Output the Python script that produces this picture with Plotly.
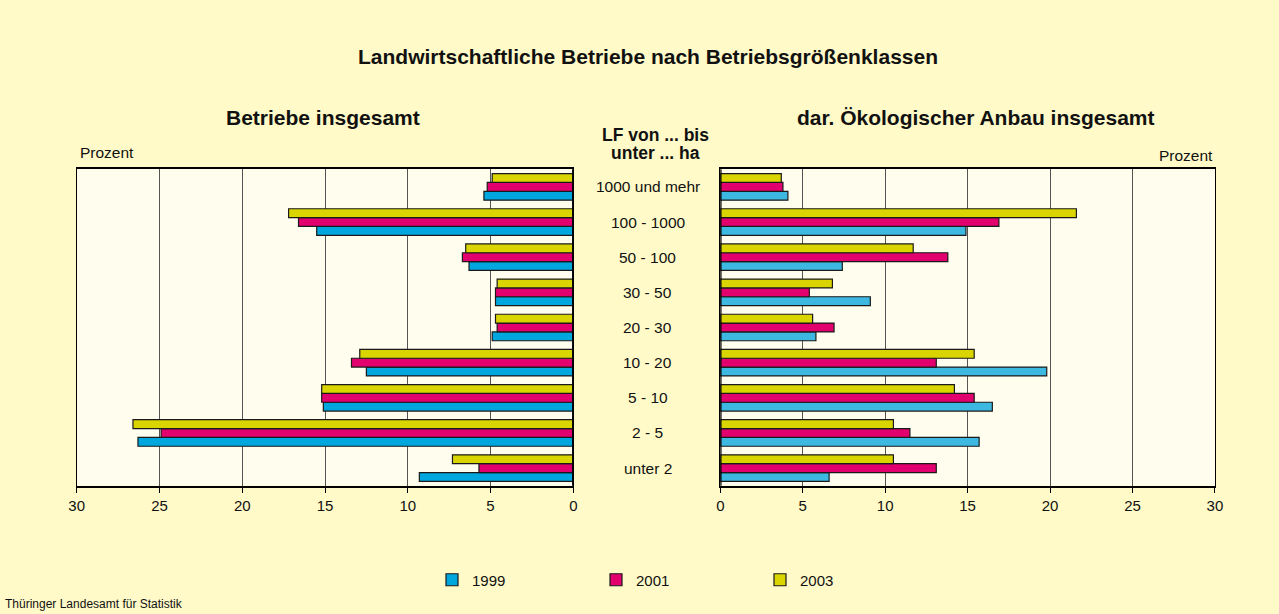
import plotly.graph_objects as go

W, H = 1279, 614

categories = ["1000 und mehr", "100 - 1000", "50 - 100", "30 - 50", "20 - 30",
              "10 - 20", "5 - 10", "2 - 5", "unter 2"]
years = ["1999", "2001", "2003"]

# Betriebe insgesamt (Prozent)
total_1999 = [5.4, 15.5, 6.3, 4.7, 4.9, 12.5, 15.1, 26.3, 9.3]
total_2001 = [5.2, 16.6, 6.7, 4.7, 4.6, 13.4, 15.2, 24.9, 5.7]
total_2003 = [4.9, 17.2, 6.5, 4.6, 4.7, 12.9, 15.2, 26.6, 7.3]

# darunter Ökologischer Anbau (Prozent)
eco_1999 = [4.1, 14.9, 7.4, 9.1, 5.8, 19.8, 16.5, 15.7, 6.6]
eco_2001 = [3.8, 16.9, 13.8, 5.4, 6.9, 13.1, 15.4, 11.5, 13.1]
eco_2003 = [3.7, 21.6, 11.7, 6.8, 5.6, 15.4, 14.2, 10.5, 10.5]

tick_vals = [0, 5, 10, 15, 20, 25, 30]
tick_text = ["0", "5", "10", "15", "20", "25", "30"]

colors_left = ["#00A6DE", "#E2006F", "#DAD500"]
colors_right = ["#3DB8E1", "#E2006F", "#DAD500"]

BG = "#FFFAC8"
PLOT_BG = "#FFFDEE"
FONT = "Liberation Sans, Arial, sans-serif"

fig = go.Figure()

left_series = [total_1999, total_2001, total_2003]
right_series = [eco_1999, eco_2001, eco_2003]

for i, yr in enumerate(years):
    fig.add_trace(go.Bar(
        y=categories, x=left_series[i], orientation="h", name=yr,
        marker=dict(color=colors_left[i], line=dict(color="#1a1a1a", width=1.2)),
        xaxis="x", yaxis="y", legendgroup=yr, showlegend=True,
    ))
for i, yr in enumerate(years):
    fig.add_trace(go.Bar(
        y=categories, x=right_series[i], orientation="h", name=yr,
        marker=dict(color=colors_right[i], line=dict(color="#1a1a1a", width=1.2)),
        xaxis="x2", yaxis="y2", legendgroup=yr, showlegend=False,
    ))

ydom = [1 - 485.7 / H, 1 - 169.3 / H]
xdom1 = [76.7 / W, 573.3 / W]
xdom2 = [720.3 / W, 1214.9 / W]

axis_common = dict(
    tickmode="array", tickvals=tick_vals, ticktext=tick_text,
    showgrid=True, gridcolor="#555555", gridwidth=1,
    showline=True, linecolor="#000000", linewidth=1.5, mirror=True,
    ticks="outside", ticklen=6, tickwidth=1, tickcolor="#000000",
    tickfont=dict(family=FONT, size=15, color="#111111"),
    zeroline=False, fixedrange=True, automargin=False,
)
yaxis_common = dict(
    categoryorder="array", categoryarray=categories[::-1],
    showticklabels=False, ticks="", showgrid=False, zeroline=False,
    showline=True, linecolor="#000000", linewidth=1, mirror=True,
    domain=ydom, fixedrange=True, automargin=False,
)

fig.update_layout(
    width=W, height=H,
    margin=dict(l=0, r=0, t=0, b=0, pad=0, autoexpand=False),
    paper_bgcolor=BG, plot_bgcolor=PLOT_BG,
    barmode="group", bargap=0.245, bargroupgap=0,
    font=dict(family=FONT, color="#111111"),
    xaxis=dict(domain=xdom1, range=[30, 0], anchor="y", **axis_common),
    xaxis2=dict(domain=xdom2, range=[0, 30], anchor="y2", **axis_common),
    yaxis=dict(anchor="x", **yaxis_common),
    yaxis2=dict(anchor="x2", **yaxis_common),
    legend=dict(
        orientation="h", x=432 / W, y=1 - 580 / H, xanchor="left", yanchor="middle",
        entrywidth=119, entrywidthmode="pixels", bgcolor="rgba(0,0,0,0)",
        font=dict(family=FONT, size=15, color="#111111"), traceorder="normal",
    ),
    showlegend=True,
)

# thicker zero lines
fig.add_shape(type="line", xref="x", yref="y domain", x0=0, x1=0, y0=0, y1=1,
              line=dict(color="#000000", width=2.5), layer="above")
fig.add_shape(type="line", xref="x2", yref="y2 domain", x0=0, x1=0, y0=0, y1=1,
              line=dict(color="#000000", width=2.5), layer="above")

def ann(text, px, py, size, bold=False, xanchor="center"):
    fig.add_annotation(
        text=f"<b>{text}</b>" if bold else text,
        x=px / W, y=1 - py / H, xref="paper", yref="paper",
        xanchor=xanchor, yanchor="middle", showarrow=False,
        font=dict(family=FONT, size=size, color="#111111"),
    )

ann("Landwirtschaftliche Betriebe nach Betriebsgrößenklassen", 648, 56, 21, bold=True)
ann("Betriebe insgesamt", 322.5, 118, 21, bold=True)
ann("dar. Ökologischer Anbau insgesamt", 975, 118, 21, bold=True)
ann("LF von ... bis", 655, 135, 17.5, bold=True)
ann("unter ... ha", 655, 153, 17.5, bold=True)
ann("Prozent", 78, 152, 15.5, xanchor="left")
ann("Prozent", 1215, 155, 15.5, xanchor="right")
ann("Thüringer Landesamt für Statistik", 3, 604, 12, xanchor="left")

for c in categories:
    fig.add_annotation(
        text=c, x=648 / W, y=c, xref="paper", yref="y",
        xanchor="center", yanchor="middle", showarrow=False,
        font=dict(family=FONT, size=15.5, color="#111111"),
    )

fig.write_html(
    "out.html",
    config={"displayModeBar": False},
    post_script="document.body.style.margin='0';document.body.style.padding='0';"
                "document.body.style.background='" + BG + "';",
)
